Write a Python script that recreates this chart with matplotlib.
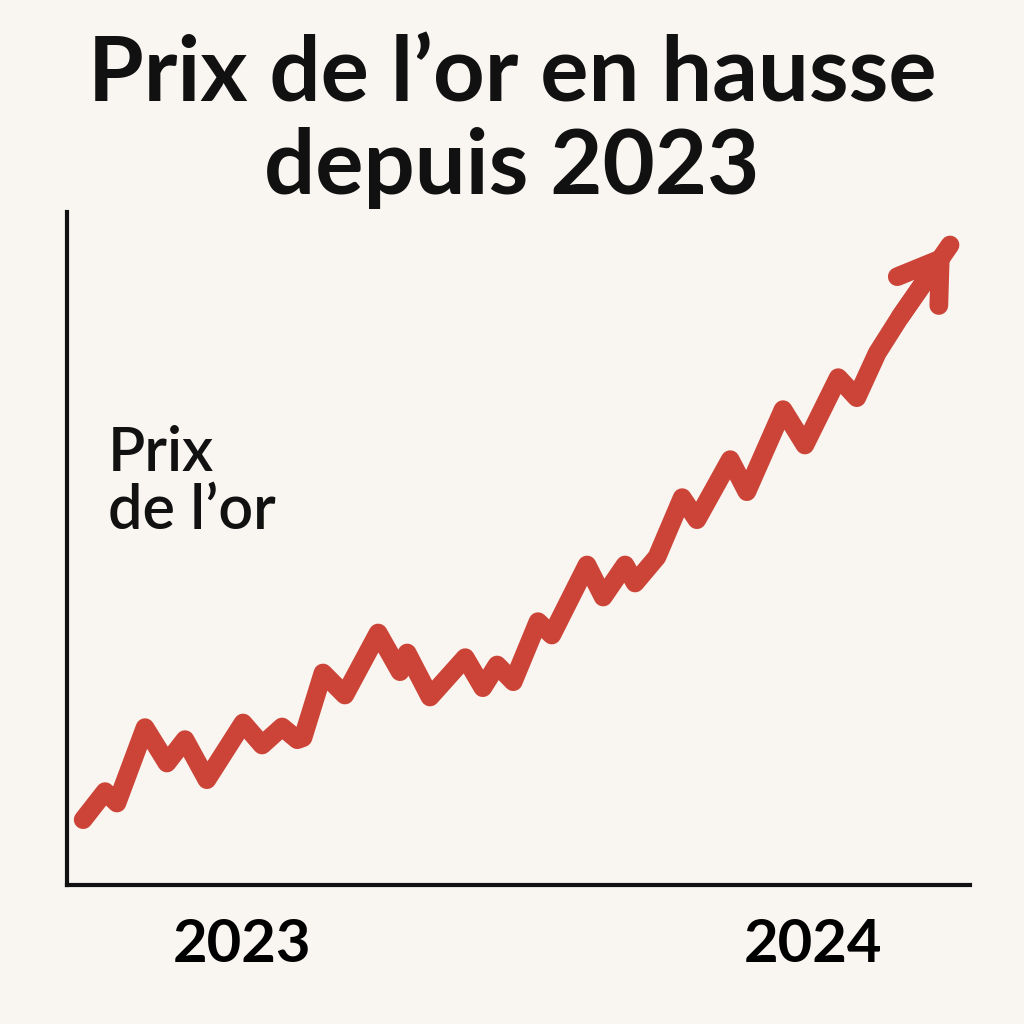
import matplotlib.pyplot as plt

# data: months since Jan 2023, gold price (USD/oz, illustrative)
months = [-3.34, -2.88, -2.63, -2.04, -1.58, -1.20, -0.74, 0.02, 0.42, 0.84,
          1.16, 1.28, 1.70, 2.16, 2.86, 3.32, 3.47, 3.95, 4.69, 5.06,
          5.36, 5.70, 6.22, 6.51, 7.25, 7.59, 8.05, 8.26, 8.72, 9.25,
          9.56, 10.26, 10.61, 11.37, 11.83, 12.53, 12.92, 13.35, 13.83, 14.88]
price = [1698, 1740, 1723, 1836, 1783, 1818, 1758, 1843, 1810, 1837,
         1818, 1821, 1918, 1885, 1978, 1920, 1948, 1882, 1941, 1896,
         1930, 1905, 1995, 1975, 2080, 2032, 2080, 2053, 2092, 2181,
         2148, 2238, 2190, 2313, 2260, 2361, 2331, 2398, 2452, 2560]
tick_pos = [0, 12]
tick_labels = ["2023", "2024"]

bg = "#f9f6f2"
red = "#cc4437"

fig = plt.figure(figsize=(10.24, 10.24), dpi=100, facecolor=bg)
ax = fig.add_axes([67 / 1024, 139 / 1024, 903 / 1024, 673 / 1024], facecolor=bg)

ax.plot(months, price, color=red, lw=13.5, solid_joinstyle="round",
        solid_capstyle="round")
ax.annotate("", xy=(months[-1], price[-1]), xytext=(months[-2], price[-2]),
            arrowprops=dict(arrowstyle="->,head_length=1.0,head_width=0.65",
                            color=red, lw=13.5, mutation_scale=28,
                            shrinkA=0, shrinkB=0, capstyle="round",
                            joinstyle="round"))

ax.set_xlim(-3.68, 15.30)
ax.set_ylim(1600, 2609.5)

for side in ["top", "right"]:
    ax.spines[side].set_visible(False)
for side in ["left", "bottom"]:
    ax.spines[side].set_linewidth(3)
    ax.spines[side].set_color("#111111")

ax.set_yticks([])
ax.set_xticks(tick_pos)
ax.set_xticklabels(tick_labels, fontsize=43, fontweight="bold", family="Lato")
ax.tick_params(axis="x", length=0, pad=24)

fig.text(0.5, 1 - 75 / 1024, "Prix de l’or en hausse", ha="center", va="center",
         fontsize=65, fontweight="bold", family="Lato", color="#111111")
fig.text(0.5, 1 - 168 / 1024, "depuis 2023", ha="center", va="center",
         fontsize=65, fontweight="bold", family="Lato", color="#111111")
fig.text(108 / 1024, 1 - 482 / 1024, "Prix\nde l’or", ha="left", va="center",
         fontsize=44, fontweight="semibold", family="Lato", color="#111111",
         linespacing=1.05)

fig.savefig("out.png", dpi=100, facecolor=bg)
